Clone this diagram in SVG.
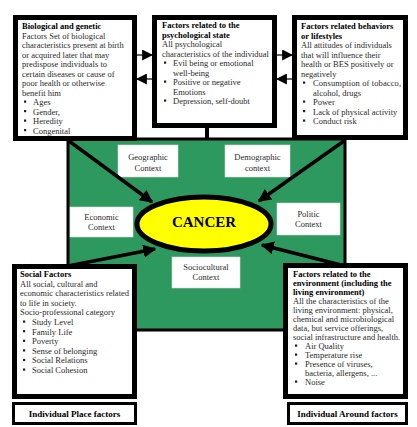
<svg xmlns="http://www.w3.org/2000/svg" width="417" height="427" viewBox="0 0 417 427" font-family="'Liberation Serif', 'DejaVu Serif', serif">
  <defs>
    <marker id="head" viewBox="0 0 10 10" refX="9" refY="5" markerWidth="11" markerHeight="11" markerUnits="userSpaceOnUse" orient="auto">
      <path d="M0,0 L10,5 L0,10 z" fill="#000"/>
    </marker>
    <marker id="bighead" viewBox="0 0 10 10" refX="9" refY="5" markerWidth="13" markerHeight="13" markerUnits="userSpaceOnUse" orient="auto">
      <path d="M0,0 L10,5 L0,10 z" fill="#000"/>
    </marker>
  </defs>
  <style>
    text { font-family: 'Liberation Serif', 'DejaVu Serif', serif; font-size: 8.5px; fill: #2a2a2a; }
    .title { font-weight: bold; fill: #000; }
    .ctx { text-anchor: middle; }
    .factor { fill: #fff; stroke: #000; stroke-width: 5; }
    .label { fill: #fff; stroke: #000; stroke-width: 3; }
    .context { fill: #fff; stroke: #d8d8d8; stroke-width: 0.6; }
    .bul { fill: #222; }
    .link { stroke: #000; stroke-width: 1.2; fill: none; marker-end: url(#head); }
    .thick { stroke: #000; stroke-width: 3.5; fill: none; marker-end: url(#bighead); }
    .lbl { font-weight: bold; fill: #000; text-anchor: middle; font-size: 9px; }
    .big { font-size: 15px; font-weight: bold; fill: #000; text-anchor: middle; }
  </style>

  <!-- central field -->
  <g id="field">
    <rect x="68" y="139" width="277" height="191" fill="#2e995f" stroke="#000" stroke-width="3"/>
  </g>

  <!-- contexts inside the field -->
  <g id="ctx-geographic">
    <rect class="context" x="118" y="145" width="60" height="32"/>
    <text class="ctx" x="148" y="160">Geographic</text>
    <text class="ctx" x="148" y="171">Context</text>
  </g>
  <g id="ctx-demographic">
    <rect class="context" x="225" y="145" width="65" height="32"/>
    <text class="ctx" x="257.5" y="160">Demographic</text>
    <text class="ctx" x="257.5" y="171">context</text>
  </g>
  <g id="ctx-economic">
    <rect class="context" x="70" y="207" width="63" height="30"/>
    <text class="ctx" x="101.5" y="220">Economic</text>
    <text class="ctx" x="101.5" y="230">Context</text>
  </g>
  <g id="ctx-politic">
    <rect class="context" x="277" y="203" width="63" height="32"/>
    <text class="ctx" x="308.5" y="217">Politic</text>
    <text class="ctx" x="308.5" y="227">Context</text>
  </g>
  <g id="ctx-sociocultural">
    <rect class="context" x="172" y="257" width="68" height="31"/>
    <text class="ctx" x="206" y="270">Sociocultural</text>
    <text class="ctx" x="206" y="280">Context</text>
  </g>

  <!-- connectors -->
  <g id="connectors">
    <line class="link" x1="137" y1="55" x2="152" y2="55"/>
    <line class="link" x1="152" y1="79" x2="137" y2="79"/>
    <line class="link" x1="277" y1="55" x2="292" y2="55"/>
    <line class="link" x1="292" y1="79" x2="277" y2="79"/>
    <line x1="207" y1="128" x2="207" y2="139" stroke="#000" stroke-width="4"/>
    <line class="thick" x1="69" y1="141" x2="152" y2="202"/>
    <line class="thick" x1="344" y1="141" x2="259" y2="201"/>
    <line class="thick" x1="68" y1="266" x2="155" y2="249"/>
    <line class="thick" x1="345" y1="266" x2="262" y2="245"/>
  </g>

  <!-- centre -->
  <g id="cancer">
    <ellipse cx="204" cy="224" rx="67" ry="27" fill="#ffff00" stroke="#000" stroke-width="5"/>
    <text class="big" x="204" y="227">CANCER</text>
  </g>

  <!-- biological and genetic factors -->
  <g id="biological">
    <rect class="factor" x="15.5" y="17.5" width="119" height="121"/>
    <text class="title" x="22" y="29">Biological and genetic</text>
    <text x="22" y="38.5">Factors Set of biological</text>
    <text x="22" y="48">characteristics present at birth</text>
    <text x="22" y="57.5">or acquired later that may</text>
    <text x="22" y="67">predispose individuals to</text>
    <text x="22" y="76.5">certain diseases or cause of</text>
    <text x="22" y="86">poor health or otherwise</text>
    <text x="22" y="95.5">benefit him</text>
    <rect class="bul" x="24" y="100.5" width="2.2" height="2.2"/>
    <text x="33" y="105">Ages</text>
    <rect class="bul" x="24" y="110" width="2.2" height="2.2"/>
    <text x="33" y="114.5">Gender,</text>
    <rect class="bul" x="24" y="119.5" width="2.2" height="2.2"/>
    <text x="33" y="124">Heredity</text>
    <rect class="bul" x="24" y="129" width="2.2" height="2.2"/>
    <text x="33" y="133.5">Congenital</text>
  </g>

  <!-- psychological state -->
  <g id="psychological">
    <rect class="factor" x="154.5" y="17.5" width="120" height="108"/>
    <text class="title" x="162" y="28">Factors related to the</text>
    <text class="title" x="162" y="37.5">psychological state</text>
    <text x="162" y="47">All psychological</text>
    <text x="162" y="56.5">characteristics of the individual</text>
    <rect class="bul" x="164" y="61.5" width="2.2" height="2.2"/>
    <text x="173" y="66">Evil being or emotional</text>
    <text x="173" y="75.5">well-being</text>
    <rect class="bul" x="164" y="80.5" width="2.2" height="2.2"/>
    <text x="173" y="85">Positive or negative</text>
    <text x="173" y="94.5">Emotions</text>
    <rect class="bul" x="164" y="99.5" width="2.2" height="2.2"/>
    <text x="173" y="104">Depression, self-doubt</text>
  </g>

  <!-- behaviours and lifestyles -->
  <g id="behaviors">
    <rect class="factor" x="294.5" y="17.5" width="111" height="120"/>
    <text class="title" x="301" y="29">Factors related behaviors</text>
    <text class="title" x="301" y="38.5">or lifestyles</text>
    <text x="301" y="48">All attitudes of individuals</text>
    <text x="301" y="57.5">that will influence their</text>
    <text x="301" y="67">health or BES positively or</text>
    <text x="301" y="76.5">negatively</text>
    <rect class="bul" x="303" y="81.5" width="2.2" height="2.2"/>
    <text x="313" y="86" textLength="88" lengthAdjust="spacing">Consumption of tobacco,</text>
    <text x="313" y="95.5">alcohol, drugs</text>
    <rect class="bul" x="303" y="100.5" width="2.2" height="2.2"/>
    <text x="313" y="105">Power</text>
    <rect class="bul" x="303" y="110" width="2.2" height="2.2"/>
    <text x="313" y="114.5">Lack of physical activity</text>
    <rect class="bul" x="303" y="119.5" width="2.2" height="2.2"/>
    <text x="313" y="124">Conduct risk</text>
  </g>

  <!-- social factors -->
  <g id="social">
    <rect class="factor" x="14.5" y="266.5" width="120" height="130"/>
    <text class="title" x="20" y="277">Social Factors</text>
    <text x="20" y="286.6"> All social, cultural and</text>
    <text x="20" y="296.2">economic characteristics related</text>
    <text x="20" y="305.8">to life in society.</text>
    <text x="20" y="315.4"> Socio-professional category</text>
    <rect class="bul" x="23" y="320.5" width="2.2" height="2.2"/>
    <text x="32" y="325">Study Level</text>
    <rect class="bul" x="23" y="330.1" width="2.2" height="2.2"/>
    <text x="32" y="334.6">Family Life</text>
    <rect class="bul" x="23" y="339.7" width="2.2" height="2.2"/>
    <text x="32" y="344.2">Poverty</text>
    <rect class="bul" x="23" y="349.3" width="2.2" height="2.2"/>
    <text x="32" y="353.8">Sense of belonging</text>
    <rect class="bul" x="23" y="358.9" width="2.2" height="2.2"/>
    <text x="32" y="363.4">Social Relations</text>
    <rect class="bul" x="23" y="368.5" width="2.2" height="2.2"/>
    <text x="32" y="373">Social Cohesion</text>
  </g>

  <!-- environment -->
  <g id="environment">
    <rect class="factor" x="285.5" y="265.5" width="120" height="131"/>
    <text class="title" x="293" y="277">Factors related to the</text>
    <text class="title" x="293" y="286">environment (including the</text>
    <text class="title" x="293" y="295">living environment)</text>
    <text x="293" y="304">All the characteristics of the</text>
    <text x="293" y="313">living environment: physical,</text>
    <text x="293" y="322">chemical and microbiological</text>
    <text x="293" y="331">data, but service offerings,</text>
    <text x="293" y="340">social infrastructure and health.</text>
    <rect class="bul" x="295" y="344.5" width="2.2" height="2.2"/>
    <text x="305" y="349">Air Quality</text>
    <rect class="bul" x="295" y="353.5" width="2.2" height="2.2"/>
    <text x="305" y="358">Temperature rise</text>
    <rect class="bul" x="295" y="362.5" width="2.2" height="2.2"/>
    <text x="305" y="367">Presence of viruses,</text>
    <text x="305" y="376">bacteria, allergens, ...</text>
    <rect class="bul" x="295" y="380.5" width="2.2" height="2.2"/>
    <text x="305" y="385">Noise</text>
  </g>

  <!-- footer labels -->
  <g id="place-label">
    <rect class="label" x="13.5" y="403.5" width="122" height="20"/>
    <text class="lbl" x="74.5" y="416.5">Individual Place factors</text>
  </g>
  <g id="around-label">
    <rect class="label" x="288.5" y="403.5" width="118" height="20"/>
    <text class="lbl" x="347.5" y="416.5">Individual Around factors</text>
  </g>
</svg>
